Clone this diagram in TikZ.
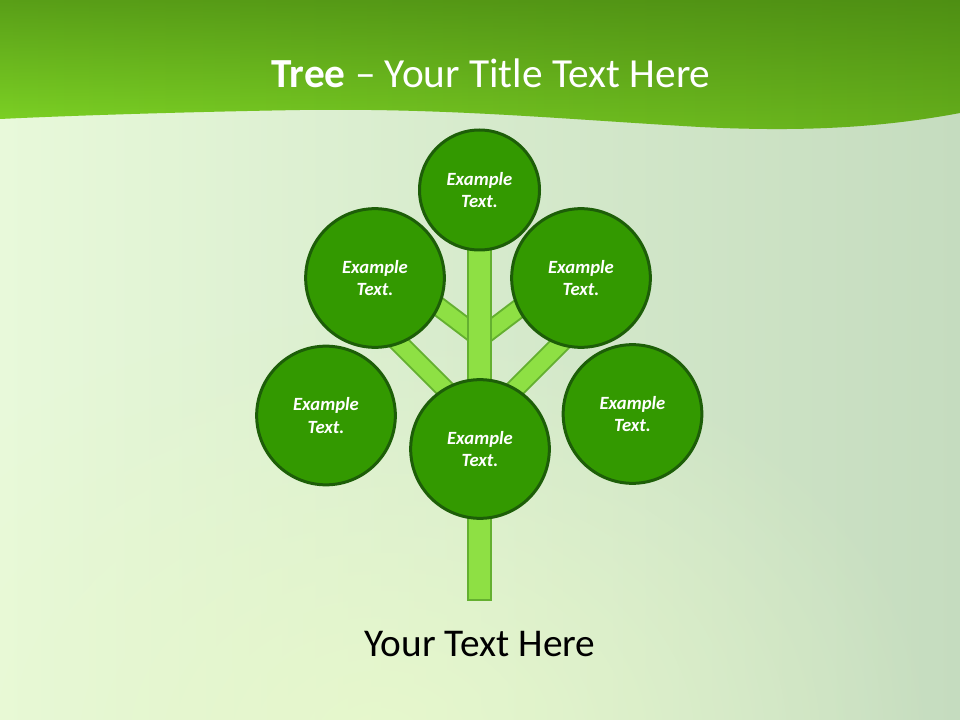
\documentclass[tikz,border=0pt]{standalone}
\usepackage{fontspec}
\setmainfont{Carlito}
\usetikzlibrary{fadings}
\definecolor{bgL}{HTML}{E8F9DA}
\definecolor{bgM}{HTML}{D8EFCA}
\definecolor{bgR}{HTML}{C5DCBF}
\definecolor{bgGlow}{HTML}{E8F9CC}
\definecolor{hdL}{HTML}{80D626}
\definecolor{hdR}{HTML}{66B01C}
\definecolor{hdTop}{HTML}{3F7A0E}
\definecolor{leafFill}{HTML}{339900}
\definecolor{leafLine}{HTML}{1D5E08}
\definecolor{barFill}{HTML}{8EE044}
\definecolor{barLine}{HTML}{64B030}
\tikzfading[name=glowfade,inner color=transparent!0,outer color=transparent!100]
\begin{document}
\begin{tikzpicture}[x=0.75pt,y=-0.75pt,
  leaf/.style={circle,fill=leafFill,draw=leafLine,line width=2.25pt,
    text=white,align=center,inner sep=0pt,
    font=\fontsize{14}{17}\selectfont\bfseries\itshape},
  bigleaf/.style={leaf,minimum size=104pt},
  smallleaf/.style={leaf,minimum size=90pt},
  branch/.style={draw=barLine,line width=1.5pt,double=barFill,double distance=12pt},
  trunkbar/.style={fill=barFill,draw=barLine,line width=1.5pt}]
\useasboundingbox (0,0) rectangle (960,720);
% background
\shade[left color=bgL,middle color=bgM,right color=bgR] (0,0) rectangle (960,720);
\begin{scope}
\clip (0,0) rectangle (960,720);
\fill[bgGlow,opacity=0.9,path fading=glowfade] (380,740) ellipse [x radius=560,y radius=420];
\end{scope}
% header
\begin{scope}
\clip (0,0) -- (960,0) -- (960,113)
  .. controls (880,128) and (800,132) .. (700,127)
  .. controls (560,119) and (450,108) .. (300,110)
  .. controls (180,112) and (60,116) .. (0,119) -- cycle;
\shade[left color=hdL,right color=hdR] (0,0) rectangle (960,135);
\fill[hdTop,opacity=0.6,path fading=south] (0,0) rectangle (960,135);
\end{scope}
\node[anchor=base,text=white,font=\fontsize{31}{36}\selectfont] (title) at (491,88)
  {{\bfseries Tree} -- Your Title Text Here};
% branch anchor coordinates
\coordinate (jl) at (480,338);
\coordinate (jr) at (480,338);
\coordinate (kl) at (480,424);
\coordinate (kr) at (480,424);
\coordinate (el) at (418,291);
\coordinate (er) at (542,291);
\coordinate (fl) at (385,329);
\coordinate (fr) at (575,329);
\coordinate (ttl) at (468,245);
\coordinate (tbr) at (491,600);
% branches
\draw[branch] (jl) -- (el);
\draw[branch] (jr) -- (er);
\draw[branch] (kl) -- (fl);
\draw[branch] (kr) -- (fr);
% trunk
\draw[trunkbar] (ttl) rectangle (tbr);
% leaves
\node[smallleaf] (top) at (479.5,190) {Example\\Text.};
\node[bigleaf] (ul) at (375,278) {Example\\Text.};
\node[bigleaf] (ur) at (581,278) {Example\\Text.};
\node[bigleaf] (ll) at (326,415.5) {Example\\Text.};
\node[bigleaf] (lr) at (632.5,414) {Example\\Text.};
\node[bigleaf] (cb) at (480,449) {Example\\Text.};
% bottom text
\node[anchor=base,font=\fontsize{29.5}{34}\selectfont] (caption) at (480,656) {Your Text Here};
\end{tikzpicture}
\end{document}
